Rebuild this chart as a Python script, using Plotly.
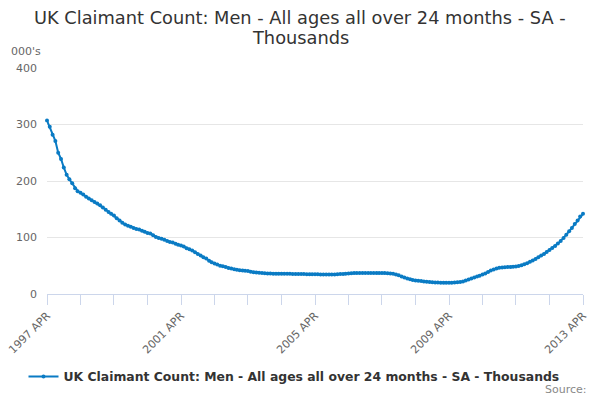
import pandas as pd
import plotly.graph_objects as go

# Monthly values (thousands), April 1997 .. April 2013
y1997 = [307, 296, 282, 271, 250, 239, 224, 211, 203, 196, 187, 182]
y1998 = [179, 176, 172, 169, 166, 163, 160, 157, 153, 149, 145, 142]
y1999 = [139, 134, 130, 126, 123, 121, 119, 117, 115, 114, 112, 110]
y2000 = [108, 107, 104, 101, 99, 98, 96, 94, 92, 91, 89, 87]
y2001 = [86, 84, 81, 79, 77, 74, 71, 68, 65, 63, 59, 56]
y2002 = [54, 52, 50, 49, 48, 46, 45, 44, 43, 42, 41.5, 41]
y2003 = [40.5, 39.5, 38.5, 38, 37.5, 37, 36.8, 36.5, 36.2, 36, 36, 36]
y2004 = [36, 36, 36, 35.8, 35.6, 35.5, 35.4, 35.3, 35.2, 35.1, 35, 35]
y2005 = [35, 34.8, 34.6, 34.5, 34.4, 34.3, 34.4, 34.6, 34.9, 35.2, 35.6, 36]
y2006 = [36.4, 36.7, 37, 37.1, 37.2, 37.2, 37.3, 37.3, 37.3, 37.2, 37.2, 37.2]
y2007 = [37.1, 37, 36.8, 36.5, 35.7, 34.5, 33, 31, 29.3, 27.5, 26, 24.8]
y2008 = [24, 23.3, 22.8, 22.2, 21.7, 21.3, 20.9, 20.5, 20.2, 20, 19.9, 19.8]
y2009 = [19.8, 20, 20.2, 20.6, 21.3, 22.3, 23.8, 25.5, 27.3, 29, 30.8, 32.5]
y2010 = [34.5, 36.5, 39, 41.5, 43.5, 45, 46.3, 47, 47.5, 47.8, 48, 48.2]
y2011 = [48.5, 49.5, 51, 52.5, 54.5, 57, 59.5, 62, 65, 68, 71, 74.5]
y2012 = [78, 81.5, 85, 89.5, 94, 99, 105, 111, 117, 124, 130, 137]
y2013 = [142]

values = (y1997 + y1998 + y1999 + y2000 + y2001 + y2002 + y2003 + y2004 +
          y2005 + y2006 + y2007 + y2008 + y2009 + y2010 + y2011 + y2012 + y2013)
months = pd.date_range("1997-04-01", periods=len(values), freq="MS")

tick_dates = pd.date_range("1997-04-01", "2013-04-01", freq="12MS")
label_years = ["1997 APR", "2001 APR", "2005 APR", "2009 APR", "2013 APR"]
tick_text = [d.strftime("%Y") + " APR" if (d.strftime("%Y") + " APR") in label_years else ""
             for d in tick_dates]

series_name = "UK Claimant Count: Men - All ages all over 24 months - SA - Thousands"
title_line1 = "UK Claimant Count: Men - All ages all over 24 months - SA -"
title_line2 = "Thousands"
color = "#0a7bc4"
font = "DejaVu Sans"

fig = go.Figure()
fig.add_trace(go.Scatter(
    x=months, y=values, mode="lines+markers", name=series_name,
    line=dict(color=color, width=2),
    marker=dict(color=color, size=4),
    cliponaxis=False,
))

# plot area: x 47..583, y 68..294 (226 px tall)
def py(pix):
    return 1 + (68 - pix) / 226.0

def px(pix):
    return (pix - 47) / 536.0

fig.update_layout(
    width=600, height=400,
    paper_bgcolor="white", plot_bgcolor="white",
    margin=dict(l=47, r=17, t=68, b=106, autoexpand=False),
    font=dict(family=font, color="#666666", size=11),
    showlegend=True,
    legend=dict(
        orientation="h", x=px(294), xanchor="center", y=py(362), yanchor="top",
        font=dict(family=font, size=12.4, color="#333333", weight="bold"),
        itemwidth=30,
    ),
    xaxis=dict(
        range=[months[0], months[-1]], automargin=False,
        tickvals=list(tick_dates), ticktext=tick_text,
        tickangle=-45,
        showgrid=False, zeroline=False,
        showline=True, linecolor="#ccd6eb", linewidth=1,
        ticks="outside", ticklen=10, tickcolor="#ccd6eb",
        tickfont=dict(family=font, size=11, color="#666666"),
    ),
    yaxis=dict(
        range=[0, 400], dtick=100, automargin=False,
        showgrid=True, gridcolor="#e6e6e6", zeroline=False,
        ticks="", tickfont=dict(family=font, size=11, color="#666666"),
        ticklabelstandoff=9,
    ),
    annotations=[
        dict(text=title_line1, xref="paper", yref="paper", x=px(300), y=py(17.5),
             xanchor="center", yanchor="middle", showarrow=False,
             font=dict(family=font, size=17.8, color="#333333")),
        dict(text=title_line2, xref="paper", yref="paper", x=px(300), y=py(37.5),
             xanchor="center", yanchor="middle", showarrow=False,
             font=dict(family=font, size=17.8, color="#333333")),
        dict(text="000's", xref="paper", yref="paper", x=px(9), y=py(52),
             xanchor="left", yanchor="middle", showarrow=False,
             font=dict(family=font, size=11, color="#666666")),
        dict(text="Source:", xref="paper", yref="paper", x=px(589), y=py(389),
             xanchor="right", yanchor="middle", showarrow=False,
             font=dict(family=font, size=11, color="#888888")),
    ],
)

fig.write_html("out.html", config={"displayModeBar": False},
               post_script="document.body.style.margin='0';")
